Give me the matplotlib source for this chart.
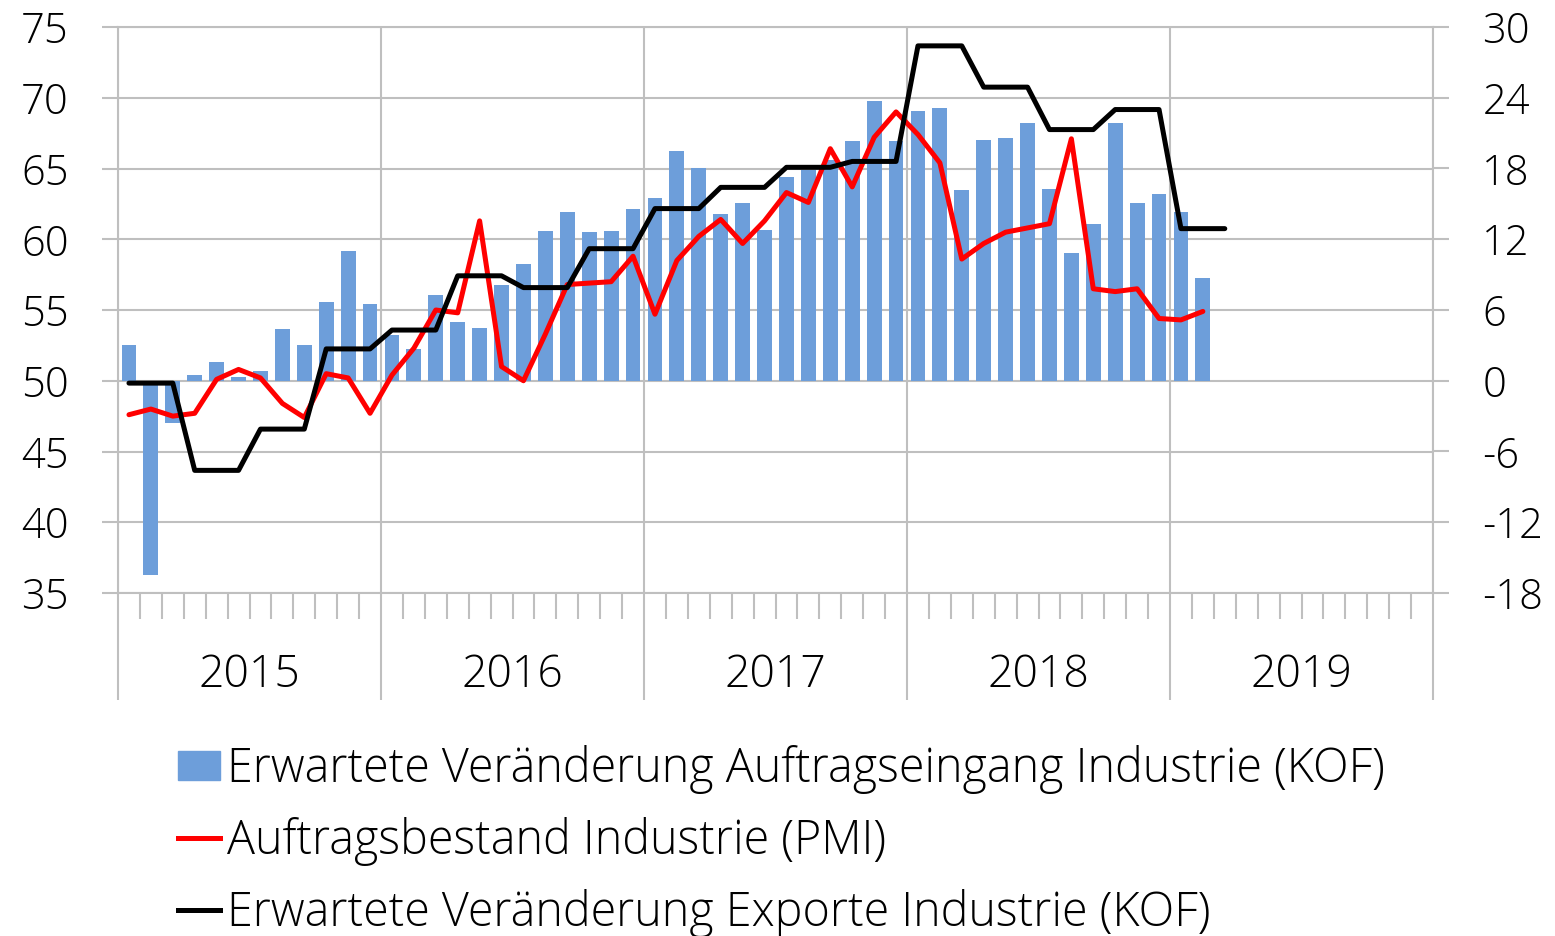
import numpy as np
import matplotlib
matplotlib.use("Agg")
import matplotlib.pyplot as plt
from matplotlib.patches import Patch
from matplotlib.lines import Line2D

plt.rcParams['font.family'] = ['Open Sans', 'DejaVu Sans']
plt.rcParams['font.weight'] = 'light'
plt.rcParams['axes.unicode_minus'] = False

# monthly data, Jan 2015 onwards
years = ['2015', '2016', '2017', '2018', '2019']

# KOF: expected change in incoming orders, industry (right scale)
kof_orders = [3.0, -16.5, -3.6, 0.5, 1.6, 0.3, 0.8, 4.4, 3.0, 6.7, 11.0, 6.5,
              3.9, 2.7, 7.3, 5.0, 4.5, 8.1, 9.9, 12.7, 14.3, 12.6, 12.7, 14.6,
              15.5, 19.5, 18.0, 14.1, 15.1, 12.8, 17.3, 17.9, 18.7, 20.3, 23.7, 20.3,
              22.9, 23.1, 16.2, 20.4, 20.6, 21.9, 16.3, 10.8, 13.3, 21.9, 15.1, 15.8,
              14.3, 8.7]

# PMI: backlog of orders, industry (left scale)
pmi_backlog = [47.6, 48.0, 47.5, 47.7, 50.1, 50.8, 50.2, 48.4, 47.4, 50.5, 50.2, 47.7,
               50.4, 52.3, 55.0, 54.8, 61.3, 51.0, 50.0, 53.3, 56.8, 56.9, 57.0, 58.8,
               54.7, 58.5, 60.2, 61.4, 59.7, 61.3, 63.3, 62.6, 66.4, 63.7, 67.2, 69.0,
               67.4, 65.4, 58.6, 59.7, 60.5, 60.8, 61.1, 67.1, 56.5, 56.3, 56.5, 54.4,
               54.3, 54.9]

# KOF: expected change in exports, industry (quarterly survey, right scale)
kof_exports = [-0.2, -0.2, -0.2, -7.6, -7.6, -7.6, -4.1, -4.1, -4.1, 2.7, 2.7, 2.7,
               4.3, 4.3, 4.3, 8.9, 8.9, 8.9, 7.9, 7.9, 7.9, 11.2, 11.2, 11.2,
               14.6, 14.6, 14.6, 16.4, 16.4, 16.4, 18.1, 18.1, 18.1, 18.6, 18.6, 18.6,
               28.4, 28.4, 28.4, 24.9, 24.9, 24.9, 21.3, 21.3, 21.3, 23.0, 23.0, 23.0,
               12.9, 12.9, 12.9]

labels = ['Erwartete Veränderung Auftragseingang Industrie (KOF)',
          'Auftragsbestand Industrie (PMI)',
          'Erwartete Veränderung Exporte Industrie (KOF)']

BLUE = '#6D9EDA'
GRID = '#BFBFBF'
FS = 30
LW = 3.6

n_months = 12 * len(years)

fig = plt.figure(figsize=(15.55, 9.36), dpi=100)
ax = fig.add_axes([118 / 1555, 1 - 593 / 936, 1315 / 1555, 566 / 936])

ax.set_xlim(-0.5, n_months - 0.5)
ax.set_ylim(35, 75)
ax.set_yticks(np.arange(35, 76, 5))
ax.set_xticks(np.arange(-0.5, n_months, 12))
ax.set_xticks(np.arange(-0.5, n_months, 1), minor=True)
ax.tick_params(axis='x', which='major', length=77, width=1.5, color=GRID, labelbottom=False)
ax.tick_params(axis='x', which='minor', length=19, width=1.5, color=GRID)
ax.tick_params(axis='y', length=11.5, width=1.5, color=GRID, pad=24, labelsize=FS)
ax.grid(True, which='major', color=GRID, lw=1.5)
for s in ax.spines.values():
    s.set_color(GRID)
    s.set_linewidth(1.5)

for k, yr in enumerate(years):
    ax.text(12 * k + 5.5, -0.147, yr, transform=ax.get_xaxis_transform(),
            ha='center', va='center', fontsize=32)

# bars on the right scale
axb = ax.twinx()
axb.set_ylim(-18, 30)
axb.set_yticks(np.arange(-18, 31, 6))
axb.tick_params(axis='y', length=11.5, width=1.5, color=GRID, pad=24, labelsize=FS)
for s in axb.spines.values():
    s.set_visible(False)
axb.bar(np.arange(len(kof_orders)), kof_orders, width=0.68, color=BLUE)

# PMI line, left scale
axr = ax.twinx()
axr.set_ylim(35, 75)
axr.set_axis_off()
axr.plot(np.arange(len(pmi_backlog)), pmi_backlog, color='#FF0000', lw=LW,
         solid_joinstyle='round', solid_capstyle='round')

# KOF exports line, right scale
axk = ax.twinx()
axk.set_ylim(-18, 30)
axk.set_axis_off()
axk.plot(np.arange(len(kof_exports)), kof_exports, color='black', lw=LW,
         solid_joinstyle='round', solid_capstyle='round')

handles = [Patch(color=BLUE),
           Line2D([], [], color='#FF0000', lw=LW),
           Line2D([], [], color='black', lw=LW)]
fig.legend(handles, labels, loc='upper left', bbox_to_anchor=(178 / 1555, 1 - 745 / 936),
           frameon=False, fontsize=33.6, handlelength=0.9, handleheight=0.6,
           handletextpad=0.15, labelspacing=0.49, borderpad=0, borderaxespad=0)

fig.savefig('out.png', dpi=100)
